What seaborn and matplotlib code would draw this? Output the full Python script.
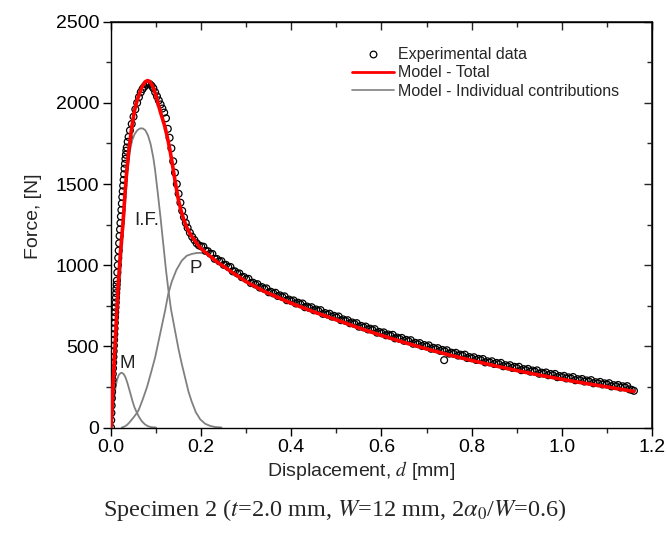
import numpy as np
import matplotlib
matplotlib.use("Agg")
import matplotlib.pyplot as plt
import seaborn as sns
from matplotlib.lines import Line2D
from matplotlib.ticker import MultipleLocator, FormatStrFormatter

# Model - Total (red)
total_d = [0, 0.005, 0.010, 0.016, 0.021, 0.027, 0.031, 0.035, 0.040, 0.046, 0.052, 0.058,
           0.064, 0.070, 0.076, 0.081, 0.086, 0.092, 0.098, 0.104, 0.110, 0.115, 0.120,
           0.126, 0.131, 0.136, 0.142, 0.149, 0.155, 0.161, 0.168, 0.176, 0.186, 0.197,
           0.209, 0.22, 0.235, 0.25, 0.264, 0.28, 0.3, 0.34, 0.4, 0.45, 0.5, 0.55, 0.6,
           0.65, 0.7, 0.75, 0.8, 0.85, 0.9, 0.95, 1.0, 1.05, 1.1, 1.16]
total_F = [0, 290, 560, 880, 1080, 1275, 1440, 1582, 1720, 1849, 1950, 2015,
           2065, 2105, 2130, 2137, 2132, 2105, 2060, 2000, 1940, 1895, 1849,
           1775, 1706, 1625, 1521, 1410, 1340, 1285, 1233, 1190, 1151, 1110,
           1080, 1055, 1020, 992, 965, 935, 898, 838, 765, 712, 663, 613, 567,
           524, 484, 447, 413, 381, 351, 323, 297, 273, 250, 222]

# individual contributions (grey)
m_d = [0, 0.003, 0.006, 0.009, 0.013, 0.017, 0.021, 0.024, 0.028, 0.032, 0.036, 0.040,
       0.044, 0.048, 0.052, 0.057, 0.062, 0.068, 0.075, 0.082, 0.090, 0.100]
m_F = [0, 60, 150, 228, 290, 322, 335, 337, 330, 310, 278, 240,
       200, 160, 125, 94, 66, 40, 20, 8, 2, 0]

if_d = [0, 0.005, 0.010, 0.015, 0.020, 0.025, 0.031, 0.036, 0.042, 0.047, 0.052, 0.058,
        0.064, 0.070, 0.076, 0.082, 0.088, 0.094, 0.098, 0.104, 0.110, 0.116, 0.122,
        0.127, 0.133, 0.142, 0.150, 0.157, 0.165, 0.172, 0.179, 0.188, 0.198, 0.209,
        0.220, 0.231, 0.245]
if_F = [0, 230, 450, 690, 905, 1140, 1360, 1560, 1705, 1770, 1805, 1830,
        1842, 1843, 1832, 1800, 1745, 1660, 1582, 1440, 1290, 1130, 970,
        854, 730, 597, 480, 392, 300, 220, 160, 95, 50, 23,
        10, 3, 0]

p_d = [0.024, 0.030, 0.035, 0.040, 0.045, 0.050, 0.055, 0.061, 0.070, 0.080, 0.090,
       0.098, 0.110, 0.120, 0.127, 0.135, 0.145, 0.157, 0.168, 0.179, 0.190, 0.200,
       0.210]
p_F = [0, 6, 15, 28, 45, 62, 80, 105, 170, 250, 350,
       433, 590, 720, 823, 900, 970, 1028, 1058, 1069, 1075, 1076,
       1068]

# Experimental data
exp_d = [0.000, 0.0005, 0.001, 0.0015, 0.002, 0.0025, 0.003, 0.0035, 0.004, 0.0045,
         0.005, 0.0055, 0.006, 0.0065, 0.007, 0.0075, 0.008, 0.0085, 0.009, 0.0095,
         0.010, 0.0105, 0.011, 0.0115, 0.012, 0.0125, 0.013, 0.014, 0.015, 0.016,
         0.017, 0.018, 0.019, 0.020, 0.021, 0.022, 0.023, 0.024, 0.025, 0.026,
         0.027, 0.028, 0.029, 0.030, 0.031, 0.032, 0.033, 0.034, 0.035, 0.037,
         0.039, 0.042, 0.046, 0.050, 0.054, 0.058, 0.062, 0.066, 0.070, 0.074, 0.078, 0.082,
         0.086, 0.090, 0.094, 0.098, 0.102, 0.106, 0.110, 0.114, 0.118, 0.122, 0.126,
         0.130, 0.134, 0.138, 0.142, 0.146, 0.150, 0.154, 0.158, 0.162, 0.166, 0.170,
         0.175, 0.180, 0.185, 0.190, 0.195,
         0.200, 0.205, 0.210, 0.215, 0.220, 0.225, 0.230, 0.235, 0.240, 0.245,
         0.250, 0.255, 0.260, 0.265, 0.270, 0.275, 0.280, 0.285, 0.290, 0.295,
         0.300, 0.305, 0.310, 0.315, 0.320, 0.325, 0.330, 0.335, 0.340, 0.345,
         0.350, 0.355, 0.360, 0.365, 0.370, 0.375, 0.380, 0.385, 0.390, 0.395,
         0.400, 0.405, 0.410, 0.415, 0.420, 0.425, 0.430, 0.435, 0.440, 0.445,
         0.450, 0.455, 0.460, 0.465, 0.470, 0.475, 0.480, 0.485, 0.490, 0.495,
         0.500, 0.505, 0.510, 0.515, 0.520, 0.525, 0.530, 0.535, 0.540, 0.545,
         0.550, 0.555, 0.560, 0.565, 0.570, 0.575, 0.580, 0.585, 0.590, 0.595,
         0.600, 0.605, 0.610, 0.615, 0.620, 0.625, 0.630, 0.635, 0.640, 0.645,
         0.650, 0.655, 0.660, 0.665, 0.670, 0.675, 0.680, 0.685, 0.690, 0.695,
         0.700, 0.705, 0.710, 0.715, 0.720, 0.725, 0.730, 0.735, 0.740, 0.745,
         0.750, 0.755, 0.760, 0.765, 0.770, 0.775, 0.780, 0.785, 0.790, 0.795,
         0.800, 0.805, 0.810, 0.815, 0.820, 0.825, 0.830, 0.835, 0.840, 0.845,
         0.850, 0.855, 0.860, 0.865, 0.870, 0.875, 0.880, 0.885, 0.890, 0.895,
         0.900, 0.905, 0.910, 0.915, 0.920, 0.925, 0.930, 0.935, 0.940, 0.945,
         0.950, 0.955, 0.960, 0.965, 0.970, 0.975, 0.980, 0.985, 0.990, 0.995,
         1.000, 1.005, 1.010, 1.015, 1.020, 1.025, 1.030, 1.035, 1.040, 1.045,
         1.050, 1.055, 1.060, 1.065, 1.070, 1.075, 1.080, 1.085, 1.090, 1.095,
         1.100, 1.105, 1.110, 1.115, 1.120, 1.125, 1.130, 1.135, 1.140, 1.145,
         1.150, 1.155, 1.160, 0.739]
exp_F = [0, 45, 90, 135, 180, 220, 260, 295, 330, 365,
         400, 435, 470, 505, 540, 575, 610, 645, 680, 710,
         740, 770, 800, 828, 855, 880, 905, 955, 1000, 1045,
         1090, 1135, 1180, 1220, 1260, 1300, 1340, 1380, 1420, 1455,
         1490, 1525, 1560, 1595, 1625, 1655, 1680, 1705, 1725, 1760,
         1790, 1830, 1870, 1915, 1960, 2000, 2035, 2065, 2085, 2100, 2112, 2118,
         2115, 2105, 2090, 2065, 2040, 2015, 1990, 1965, 1940, 1905, 1840,
         1785, 1720, 1640, 1570, 1500, 1440, 1385, 1335, 1295, 1260, 1230,
         1200, 1175, 1155, 1135, 1122,
         1116, 1114, 1088, 1086, 1071, 1069, 1039, 1038, 1024, 1025,
         1002, 1002, 989, 989, 962, 962, 949, 949, 926, 927,
         914, 916, 890, 892, 881, 883, 862, 865, 854, 857,
         833, 836, 826, 830, 810, 814, 804, 808, 784, 788,
         779, 783, 764, 769, 760, 764, 741, 745, 736, 741,
         722, 727, 718, 723, 700, 705, 696, 701, 683, 688,
         679, 684, 661, 666, 657, 661, 642, 647, 638, 643,
         621, 626, 617, 622, 604, 609, 601, 606, 584, 589,
         581, 586, 568, 573, 565, 571, 549, 554, 546, 552,
         534, 540, 532, 538, 516, 522, 514, 520, 502, 508,
         500, 506, 485, 491, 483, 489, 472, 478, 470, 476,
         455, 461, 454, 460, 443, 449, 442, 449, 428, 434,
         427, 433, 416, 423, 416, 422, 401, 408, 401, 408,
         391, 398, 391, 398, 377, 384, 377, 384, 367, 374,
         367, 374, 353, 360, 354, 361, 344, 351, 345, 352,
         331, 338, 332, 339, 322, 330, 323, 330, 310, 317,
         311, 318, 302, 309, 303, 311, 291, 298, 292, 299,
         283, 290, 284, 292, 272, 279, 273, 281, 265, 272,
         266, 273, 253, 261, 255, 262, 246, 254, 248, 255,
         235, 232, 226, 415]

legend_labels = ["Experimental data", "Model - Total", "Model - Individual contributions"]
peak_labels = ["M", "I.F.", "P"]
peak_label_d = [0.035, 0.079, 0.188]
peak_label_F = [394, 1275, 977]

sns.set_theme(style="ticks")
plt.rcParams["font.family"] = ["Liberation Sans", "DejaVu Sans"]
plt.rcParams["mathtext.fontset"] = "stix"

fig = plt.figure(figsize=(6.67, 5.49), dpi=100)
ax = fig.add_axes([0.1664, 0.2213, 0.8111, 0.7392])

grey = "#808080"
for xd, yf in [(m_d, m_F), (if_d, if_F), (p_d, p_F)]:
    sns.lineplot(x=xd, y=yf, ax=ax, color=grey, linewidth=1.3, sort=False,
                 estimator=None, legend=False, zorder=2)
sns.scatterplot(x=exp_d, y=exp_F, ax=ax, marker="o", s=24, facecolors="none",
                edgecolor="black", linewidth=0.9, legend=False, zorder=3)
sns.lineplot(x=total_d, y=total_F, ax=ax, color="red", linewidth=2.6, sort=False,
             estimator=None, legend=False, zorder=4)

for lab, xd, yf in zip(peak_labels, peak_label_d, peak_label_F):
    ax.text(xd, yf, lab, fontsize=13.5, ha="center", va="center", color="#222222", zorder=5)

ax.set_xlim(0, 1.2)
ax.set_ylim(0, 2500)
ax.xaxis.set_major_locator(MultipleLocator(0.2))
ax.xaxis.set_minor_locator(MultipleLocator(0.1))
ax.yaxis.set_major_locator(MultipleLocator(500))
ax.yaxis.set_minor_locator(MultipleLocator(250))
ax.xaxis.set_major_formatter(FormatStrFormatter("%.1f"))
ax.tick_params(which="major", direction="out", length=5.5, width=1, labelsize=14,
               pad=3, top=False, right=False, colors="black")
ax.tick_params(which="minor", direction="out", length=3.5, width=1, top=False, right=False)
for sp in ax.spines.values():
    sp.set_visible(True)
    sp.set_linewidth(1.0)
    sp.set_color("black")

# mirrored inward ticks on top and right
top = ax.secondary_xaxis("top")
top.xaxis.set_major_locator(MultipleLocator(0.2))
top.xaxis.set_minor_locator(MultipleLocator(0.1))
top.tick_params(which="major", direction="in", length=5.5, width=1, labeltop=False)
top.tick_params(which="minor", direction="in", length=3.5, width=1)
right = ax.secondary_yaxis("right")
right.yaxis.set_major_locator(MultipleLocator(500))
right.yaxis.set_minor_locator(MultipleLocator(250))
right.tick_params(which="major", direction="in", length=5.5, width=1, labelright=False)
right.tick_params(which="minor", direction="in", length=3.5, width=1)

ax.set_xlabel("Displacement, $d$ [mm]", fontsize=14)
ax.xaxis.set_label_coords(0.462, -0.078)
ax.set_ylabel("Force, [N]", fontsize=14)
ax.yaxis.set_label_coords(-0.128, 0.52)

handles = [
    Line2D([], [], marker="o", linestyle="none", markerfacecolor="none",
           markeredgecolor="black", markersize=4.8, markeredgewidth=0.9),
    Line2D([], [], color="red", linewidth=2),
    Line2D([], [], color=grey, linewidth=1.2),
]
ax.legend(handles, legend_labels, loc="upper left", bbox_to_anchor=(0.431, 0.957),
          frameon=False, fontsize=11.5, borderpad=0, labelspacing=0.2,
          handlelength=2.6, handletextpad=0.3)

fig.text(0.502, 0.071, r"Specimen 2 ($t$=2.0 mm, $W$=12 mm, 2$\alpha_0$/$W$=0.6)",
         ha="center", va="center", fontsize=17.5, family="Liberation Serif")

fig.savefig("out.png", dpi=100)
